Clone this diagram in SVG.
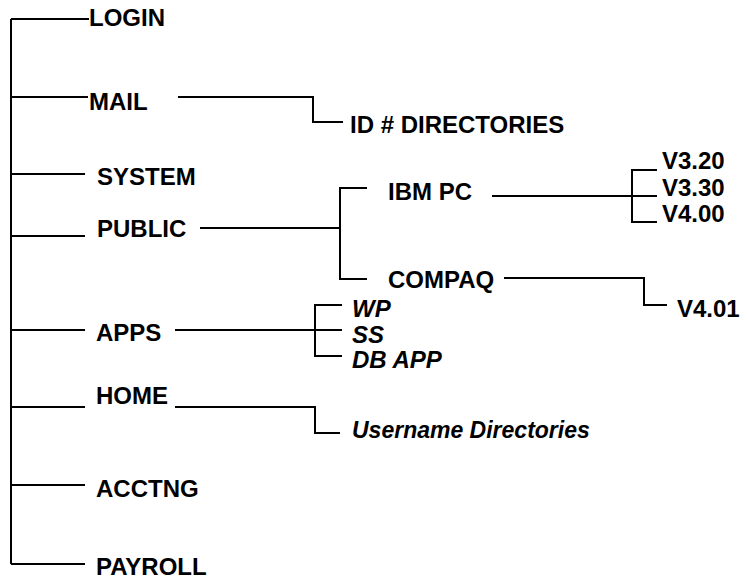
<svg xmlns="http://www.w3.org/2000/svg" width="748" height="580" viewBox="0 0 748 580">
  <style>
    .wire { fill: none; stroke: #000; stroke-width: 2; }
    text { font-family: "Liberation Sans", Arial, Helvetica, sans-serif; font-weight: bold; font-size: 24px; fill: #000; }
    .it { font-style: italic; }
    .small { font-size: 23px; }
  </style>
  <rect width="748" height="580" fill="#fff"/>

  <!-- connectors -->
  <g id="connectors" class="wire">
    <!-- root trunk and first-level branches -->
    <path d="M11,19 V564"/>
    <path d="M11,19 H89"/>
    <path d="M11,97 H88"/>
    <path d="M11,174 H85"/>
    <path d="M11,236 H85"/>
    <path d="M11,330 H85"/>
    <path d="M11,407 H85"/>
    <path d="M11,485 H85"/>
    <path d="M11,564 H85"/>
    <!-- MAIL -> ID # DIRECTORIES -->
    <path d="M178,97 H313 V122 H343"/>
    <!-- PUBLIC -> IBM PC / COMPAQ -->
    <path d="M200,228 H340"/>
    <path d="M367,188 H340 V279 H367"/>
    <!-- IBM PC -> versions -->
    <path d="M492,196 H657"/>
    <path d="M657,170 H632 V222 H657"/>
    <!-- COMPAQ -> V4.01 -->
    <path d="M504,278 H644 V305 H667"/>
    <!-- APPS -> WP / SS / DB APP -->
    <path d="M175,330 H342"/>
    <path d="M342,305 H315 V356 H342"/>
    <!-- HOME -> Username Directories -->
    <path d="M175,407 H315 V433 H340"/>
  </g>

  <g id="login"><text x="89" y="26">LOGIN</text></g>
  <g id="mail"><text x="89" y="110">MAIL</text></g>
  <g id="system"><text x="97" y="185">SYSTEM</text></g>
  <g id="public"><text x="97" y="237">PUBLIC</text></g>
  <g id="apps"><text x="96" y="341">APPS</text></g>
  <g id="home"><text x="96" y="404">HOME</text></g>
  <g id="acctng"><text x="96" y="497">ACCTNG</text></g>
  <g id="payroll"><text x="96" y="575">PAYROLL</text></g>

  <g id="id-directories"><text x="350" y="133">ID # DIRECTORIES</text></g>
  <g id="ibm-pc"><text x="388" y="200">IBM PC</text></g>
  <g id="compaq"><text x="388" y="288">COMPAQ</text></g>
  <g id="v320"><text x="662" y="169">V3.20</text></g>
  <g id="v330"><text x="662" y="196">V3.30</text></g>
  <g id="v400"><text x="662" y="222">V4.00</text></g>
  <g id="v401"><text x="677" y="317">V4.01</text></g>

  <g id="wp"><text class="it" x="352" y="317">WP</text></g>
  <g id="ss"><text class="it" x="352" y="343">SS</text></g>
  <g id="db-app"><text class="it" x="352" y="368">DB APP</text></g>
  <g id="username-directories"><text class="it small" x="352" y="438">Username Directories</text></g>
</svg>
